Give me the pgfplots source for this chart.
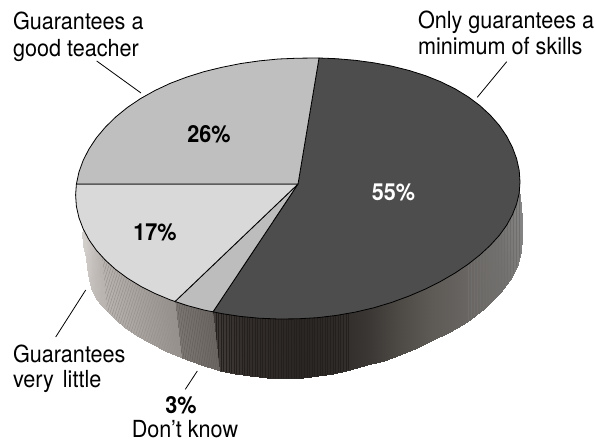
\documentclass[border=0pt]{standalone}
\usepackage{pgfplots}
\pgfplotsset{compat=1.18}
\usetikzlibrary{patterns.meta}
\usepackage{fontspec}
\setmainfont{TeX Gyre Heros}[FakeStretch=0.92]
\definecolor{sliceA}{HTML}{4D4D4D}
\definecolor{sliceB}{HTML}{BFBFBF}
\definecolor{sliceC}{HTML}{D9D9D9}
\definecolor{sliceD}{HTML}{BDBDBD}
\definecolor{grainA}{RGB}{150,145,141}
\definecolor{grainB}{RGB}{100,95,91}
\definecolor{grainC}{RGB}{36,32,30}
\definecolor{grainD}{RGB}{112,110,108}
\tikzset{txt/.style={inner sep=0pt, outer sep=0pt}}
\begin{document}
\begin{tikzpicture}
\begin{axis}[
  x=1pt, y=1pt, y dir=reverse,
  xmin=0, xmax=596, ymin=0, ymax=441,
  hide axis, clip=false, scale only axis,
  point meta min=82, point meta max=519,
  colormap={wall}{
    rgb255(82pt)=(214,210,207); rgb255(100pt)=(186,181,177); rgb255(130pt)=(172,166,162);
    rgb255(175pt)=(149,144,140); rgb255(176pt)=(125,119,115); rgb255(213pt)=(107,101,97);
    rgb255(214pt)=(64,59,56); rgb255(240pt)=(51,46,43); rgb255(300pt)=(42,38,36);
    rgb255(333pt)=(46,42,39); rgb255(367pt)=(58,54,51); rgb255(400pt)=(78,74,70);
    rgb255(433pt)=(94,90,86); rgb255(467pt)=(104,101,98); rgb255(500pt)=(116,114,112);
    rgb255(519pt)=(133,133,133)},
]
% page extent
\path (axis cs:0,0) rectangle (axis cs:596,441);

% side wall under the 17% slice
\addplot[surf, shader=interp, mesh/rows=2, point meta=\thisrow{c}] table {
x y c
84 228 82
85 229 84
86 232 86
88 236 88
90 238 90
93 243 93
96 247 96
99 251 99
102 255 102
110 261 110
120 268 120
132 274 132
145 282 145
159 289 159
175 298 175
82 233 82
83.5 245 84
85.5 258 86
86.7 268 88
88.5 279 90
91 288 93
95 297 96
100 304 99
107 311 102
116 320 110
125 328 120
137 336 132
150 343 145
165 351 159
182 358 175
};
% side wall under the 3% slice
\addplot[surf, shader=interp, mesh/rows=2, point meta=\thisrow{c}] table {
x y c
175 298 176
194 304 194
213 309 213
182 358 176
201 365 194
220 370.5 213
};
% side wall under the 55% slice
\addplot[surf, shader=interp, mesh/rows=2, point meta=\thisrow{c}] table {
x y c
213 309 214
229 311 229
245 312 245
262 313.5 262
281 315 281
300 316 300
316 315 316
333 313 333
350 310 350
367 307 367
384 302 384
400 297 400
417 292 417
433 284 433
450 273 450
467 262 467
480 249 480
493 239 493
502 230 502
509 221 509
514 211 514
517 202 517
518 195 518
519 190 519
220 370.5 214
235 373.5 229
250 376 245
267 377.8 262
285 378.5 281
303 378 300
318 376 316
333 373.5 333
350 369.5 350
367 365 367
384 360.5 384
400 355 400
417 348 417
433 340 433
450 332 450
467 322 467
484 309 480
500 293 493
510 280 502
517 267 509
521 252 514
522 237 517
521.5 220 518
520.7 205 519
};

% fine grain on the wall
\addplot[draw=none, pattern={Lines[angle=72,distance=2.6pt,line width=0.5pt]}, pattern color=grainA] coordinates {
(102,255)(120,268)(145,282)(175,298)(182,358)(165,351)(150,343)(137,336)(125,328)(116,320)(107,311)(102,255)
};
\addplot[draw=none, pattern={Lines[angle=80,distance=2.4pt,line width=0.5pt]}, pattern color=grainB] coordinates {
(175,298)(213,309)(220,370.5)(201,365)(182,358)(175,298)
};
\addplot[draw=none, pattern={Lines[angle=90,distance=2.6pt,line width=0.5pt]}, pattern color=grainC] coordinates {
(213,309)(245,312)(281,315)(300,316)(333,313)(350,310)(350,369.5)(333,373.5)(318,376)(303,378)(285,378.5)(267,377.8)(250,376)(235,373.5)(220,370.5)(213,309)
};
\addplot[draw=none, pattern={Lines[angle=90,distance=3pt,line width=0.5pt]}, pattern color=grainD] coordinates {
(467,262)(493,239)(509,221)(519,190)(520.7,205)(522,237)(521,252)(517,267)(510,280)(500,293)(484,309)(467,322)(467,262)
};

% top face
\addplot[fill=sliceA, draw=black, line width=0.8pt, line join=round] coordinates {
(298,184)(319,58.0)(336.4,58.7)(355.3,60.3)(373.8,62.8)(391.7,66.1)(408.9,70.4)(425.3,75.6)(440.6,81.7)(454.9,88.7)(468.0,96.7)(479.8,105.5)(490.2,115.1)(499.2,125.3)(506.6,136.1)(512.4,147.3)(516.6,158.7)(519.2,170.3)(520.0,182.0)(519.2,193.1)(516.6,204.0)(512.4,214.7)(506.6,225.3)(499.2,235.5)(490.2,245.4)(479.8,255.0)(468.0,264.3)(454.9,273.1)(440.6,281.4)(425.3,289.1)(408.9,296.1)(391.7,302.4)(373.8,307.8)(355.3,312.1)(336.4,315.4)(317.2,317.7)(297.8,318.8)(278.4,319.0)(259.2,318.2)(240.3,316.4)(221.8,313.6)(213,311.8)(298,184)
};
\addplot[fill=sliceD, draw=black, line width=0.8pt, line join=round] coordinates {
(298,184)(213,311.8)(203.9,310.0)(186.7,305.4)(175,301.5)(298,184)
};
\addplot[fill=sliceC, draw=black, line width=0.8pt, line join=round] coordinates {
(298,184)(175,301.5)(170.3,299.9)(155.0,293.5)(140.7,286.3)(127.6,278.3)(115.8,269.6)(105.4,260.2)(96.4,250.3)(89.0,239.8)(83.2,228.9)(79.0,217.9)(76.4,206.5)(75.6,195.0)(76.4,184)(298,184)
};
\addplot[fill=sliceB, draw=black, line width=0.8pt, line join=round] coordinates {
(298,184)(76.4,184)(79.0,171.9)(83.2,160.3)(89.0,149.0)(96.4,137.8)(105.4,127.1)(115.8,116.9)(127.6,107.3)(140.7,98.5)(155.0,90.5)(170.3,83.3)(186.7,77.1)(203.9,71.7)(221.8,67.3)(240.3,63.6)(259.2,60.9)(278.4,59.0)(297.8,58.2)(317.2,58.0)(319,58.0)(298,184)
};

% leader lines
\addplot[black, line width=0.8pt] coordinates {(96.7,61)(141,93)};
\addplot[black, line width=0.8pt] coordinates {(506.7,61.7)(477.3,97.3)};
\addplot[black, line width=0.8pt] coordinates {(85.7,290)(55.7,337)};
\addplot[black, line width=0.8pt] coordinates {(197.3,371)(185.3,389.3)};

% category labels
\def\lab{\fontsize{23.5}{27}\selectfont}
\def\val{\fontsize{23.5}{27}\selectfont\bfseries}
\node[txt, anchor=base west] at (axis cs:13,30) {\lab Guarantees a};
\node[txt, anchor=base west] at (axis cs:13,57) {\lab good teacher};
\node[txt, anchor=base west] at (axis cs:418,28.5) {\lab Only guarantees a};
\node[txt, anchor=base west] at (axis cs:418,55) {\lab minimum of skills};
\node[txt, anchor=base west] at (axis cs:13,362) {\lab Guarantees};
\node[txt, anchor=base west] at (axis cs:13,387) {\lab very\hspace{3pt} little};
\node[txt, anchor=base] at (axis cs:181,413) {\val 3\%};
\node[txt, anchor=base] at (axis cs:185,437) {\lab Don’t know};

% value labels
\node[txt, anchor=base] at (axis cs:209,142) {\val 26\%};
\node[txt, anchor=base] at (axis cs:155,240) {\val 17\%};
\node[txt, anchor=base, text=white] at (axis cs:393.5,200.5) {\val 55\%};
\end{axis}
\end{tikzpicture}
\end{document}
